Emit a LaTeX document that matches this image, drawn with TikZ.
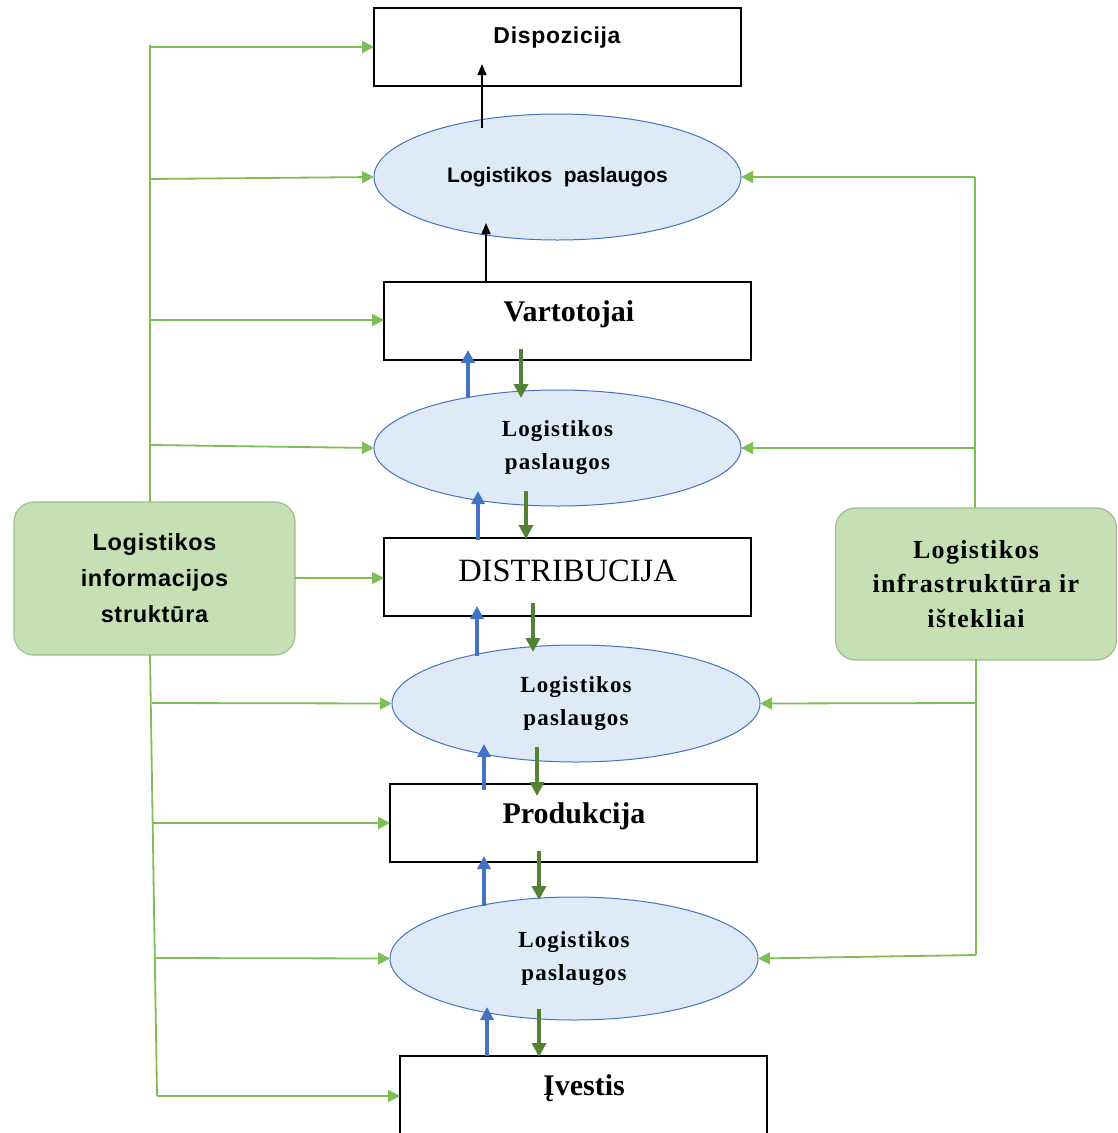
\documentclass[tikz,border=0pt]{standalone}
\usepackage{fontspec}
\setmainfont{Liberation Serif}
\newfontfamily\sansb{Liberation Sans}[LetterSpace=3]
\newfontfamily\sanstop{Liberation Sans}
\newfontfamily\serifsp{Liberation Serif}[LetterSpace=5]
\usetikzlibrary{arrows.meta,shapes.geometric}
\definecolor{lgline}{RGB}{125,190,85}
\definecolor{gfill}{RGB}{197,224,180}
\definecolor{gborder}{RGB}{160,190,145}
\definecolor{dgreen}{RGB}{84,130,53}
\definecolor{bblue}{RGB}{68,114,196}
\definecolor{efill}{RGB}{222,235,247}
\tikzset{
  rectbox/.style={draw=black,line width=1.3pt,fill=white,minimum width=367pt,minimum height=78pt,inner sep=0pt,outer sep=0pt},
  ellbox/.style={ellipse,draw=bblue,line width=1pt,fill=efill,inner sep=0pt,outer sep=0pt,align=center,font=\serifsp\bfseries\fontsize{23}{33}\selectfont},
  gbox/.style={draw=gborder,line width=1.2pt,fill=gfill,rounded corners=20pt,minimum width=281pt,inner sep=0pt,outer sep=0pt,align=center},
  gline/.style={draw=lgline,line width=1.8pt},
  garrow/.style={draw=lgline,line width=1.8pt,-{Triangle[length=12pt,width=12pt]}},
  barrow/.style={draw=bblue,line width=3.3pt,-{Triangle[length=13pt,width=13pt]}},
  dgarrow/.style={draw=dgreen,line width=3.8pt,-{Triangle[length=14pt,width=14pt]}},
  karrow/.style={draw=black,line width=1.3pt,-{Triangle[length=11pt,width=9pt]}},
  serifbig/.style={font=\fontsize{32.5}{36}\selectfont},
  serifbold/.style={font=\bfseries\fontsize{30}{36}\selectfont},
  sanslab/.style={font=\sansb\bfseries\fontsize{23}{26}\selectfont}
}
\begin{document}
\begin{tikzpicture}[x=1pt,y=-1pt]
\useasboundingbox (0,0) rectangle (1117,1133);
\clip (0,0) rectangle (1117,1133);
% side boxes
\node[gbox,minimum height=153pt,font=\sansb\bfseries\fontsize{23.5}{36}\selectfont] (lbox) at (154.5,578.5) {Logistikos\\informacijos\\struktūra};
\node[gbox,minimum height=152pt,font=\serifsp\bfseries\fontsize{26}{34.5}\selectfont] (rbox) at (976,584) {Logistikos\\infrastruktūra ir\\ištekliai};
% main column
\node[rectbox] (disp) at (557.5,47) {};
\node[sanslab] (disptxt) at (557,38) {Dispozicija};
\node[ellbox,minimum width=367pt,minimum height=126pt,font=\sanstop\bfseries\fontsize{21}{26}\selectfont] (e1) at (557.5,177) {Logistikos~ paslaugos};
\node[rectbox] (vart) at (567.5,321) {};
\node[serifbold] (varttxt) at (569,314) {Vartotojai};
\node[ellbox,minimum width=367pt,minimum height=116pt] (e2) at (557.5,448) {Logistikos\\paslaugos};
\node[rectbox] (distr) at (567.5,577) {};
\node[serifbig] (distrtxt) at (567.5,571) {DISTRIBUCIJA};
\node[ellbox,minimum width=368pt,minimum height=117pt] (e3) at (576,703.5) {Logistikos\\paslaugos};
\node[rectbox] (prod) at (573.5,823) {};
\node[serifbold] (prodtxt) at (574,816) {Produkcija};
\node[ellbox,minimum width=368pt,minimum height=123pt] (e4) at (574,958.5) {Logistikos\\paslaugos};
\node[rectbox,minimum height=90pt] (ivest) at (583.5,1101) {};
\node[serifbold] (ivesttxt) at (584,1088) {Įvestis};
% left trunk
\coordinate (LT) at (150,45);
\coordinate (LB) at (157,1096);
\draw[gline] (LT) -- (LT |- lbox.north);
\draw[gline] (150,655) -- (LB);
\draw[garrow] (150,47) -- (disp.west |- 0,47);
\draw[garrow] (150,179) -- (e1.west);
\draw[garrow] (151,320) -- (vart.west |- 0,320);
\draw[garrow] (151,445) -- (e2.west);
\draw[garrow] (lbox.east |- 0,578) -- (distr.west |- 0,578);
\draw[garrow] (152,703) -- (e3.west);
\draw[garrow] (153,823) -- (prod.west |- 0,823);
\draw[garrow] (155,958) -- (e4.west);
\draw[garrow] (LB) -- (ivest.west |- LB);
% right trunk
\coordinate (RT) at (975,177);
\coordinate (RB) at (976,955);
\draw[gline] (RT) -- (RT |- rbox.north);
\draw[gline] (976,659) -- (RB);
\draw[garrow] (RT) -- (e1.east);
\draw[garrow] (975,448) -- (e2.east);
\draw[garrow] (976,703) -- (e3.east);
\draw[garrow] (RB) -- (e4.east);
% black arrows
\draw[karrow] (482,128) -- (482,64);
\draw[karrow] (vart.north -| 486,0) -- (486,223);
% blue up / green down
\draw[barrow] (468,398) -- (468,350);
\draw[dgarrow] (521,349) -- (521,398);
\draw[barrow] (478,540) -- (478,491);
\draw[dgarrow] (526,491) -- (526,539);
\draw[barrow] (477,656) -- (477,606);
\draw[dgarrow] (533,603) -- (533,652);
\draw[barrow] (484,790) -- (484,744);
\draw[dgarrow] (537,747) -- (537,796);
\draw[barrow] (484,906) -- (484,856);
\draw[dgarrow] (539,851) -- (539,900);
\draw[barrow] (487,1056) -- (487,1007);
\draw[dgarrow] (539,1009) -- (539,1057);
\end{tikzpicture}
\end{document}
